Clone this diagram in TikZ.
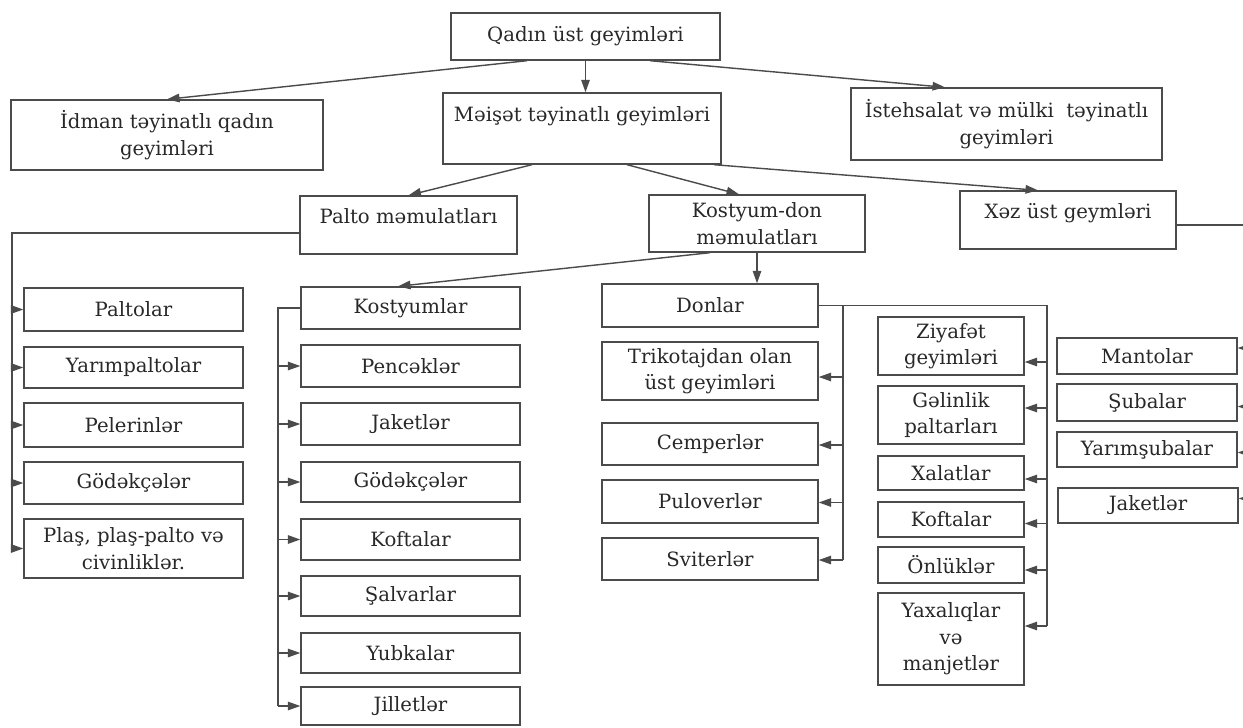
\documentclass[tikz,border=0pt]{standalone}
\usepackage{fontspec}
\setmainfont{DejaVu Serif}
\usepackage{tikz}
\usetikzlibrary{
    arrows.meta,
    calc
}
\definecolor{inkGray}{RGB}{40,40,40}
\definecolor{lineGray}{RGB}{75,75,75}
\tikzset{
  box/.style   = {draw=lineGray, line width=0.8pt, inner sep=0pt, align=center,
                  text=inkGray, font=\fontsize{11.2}{15}\selectfont},
  link/.style  = {draw=lineGray, line width=0.8pt},
  arr/.style   = {-{Triangle[length=0.25cm,width=0.17cm]}, draw=lineGray,
                  fill=lineGray, line width=0.8pt}
}

\begin{document}
\begin{tikzpicture}[x=0.02cm, y=-0.02cm]
\useasboundingbox (0,0) rectangle (1243,727);

\node[box, minimum width=5.38cm, minimum height=0.94cm] (top) at (585.5,36.5) {Qadın üst geyimləri};
\node[box, minimum width=6.24cm, minimum height=1.40cm] (idman) at (167,135) {İdman təyinatlı qadın\\geyimləri};
\node[box, minimum width=5.56cm, minimum height=1.42cm, text depth=17pt] (meiset) at (582,128.5) {Məişət təyinatlı geyimləri};
\node[box, minimum width=6.22cm, minimum height=1.44cm] (istehsalat) at (1006.5,124) {İstehsalat və mülki~ təyinatlı\\geyimləri};

\node[box, minimum width=4.34cm, minimum height=1.16cm, text depth=10pt] (palto) at (408.5,225) {Palto məmulatları};
\node[box, minimum width=4.32cm, minimum height=1.14cm] (kostyumdon) at (757,223.5) {Kostyum-don\\məmulatları};
\node[box, minimum width=4.32cm, minimum height=1.16cm, text depth=10pt] (xez) at (1068,220) {Xəz üst geymləri};

\node[box, minimum width=4.38cm, minimum height=0.86cm] (paltolar) at (133.5,309.5) {Paltolar};
\node[box, minimum width=4.38cm, minimum height=0.82cm] (yarimpaltolar) at (133.5,367.5) {Yarımpaltolar};
\node[box, minimum width=4.38cm, minimum height=0.88cm] (pelerinler) at (133.5,425) {Pelerinlər};
\node[box, minimum width=4.38cm, minimum height=0.84cm] (godekceler) at (133.5,483) {Gödəkçələr};
\node[box, minimum width=4.38cm, minimum height=1.18cm] (plas) at (133.5,548.5) {Plaş, plaş-palto və\\civinliklər.};

\node[box, minimum width=4.38cm, minimum height=0.84cm] (kostyumlar) at (410.5,308) {Kostyumlar};
\node[box, minimum width=4.38cm, minimum height=0.84cm] (pencekler) at (410.5,366) {Pencəklər};
\node[box, minimum width=4.38cm, minimum height=0.84cm] (jaketler) at (410.5,424) {Jaketlər};
\node[box, minimum width=4.38cm, minimum height=0.80cm] (godekcelerk) at (410.5,482) {Gödəkçələr};
\node[box, minimum width=4.38cm, minimum height=0.82cm] (koftalar) at (410.5,539.5) {Koftalar};
\node[box, minimum width=4.38cm, minimum height=0.80cm] (salvarlar) at (410.5,596) {Şalvarlar};
\node[box, minimum width=4.38cm, minimum height=0.80cm] (yubkalar) at (410.5,653) {Yubkalar};
\node[box, minimum width=4.38cm, minimum height=0.76cm] (jilletler) at (410.5,706) {Jilletlər};

\node[box, minimum width=4.32cm, minimum height=0.86cm] (donlar) at (710,305.5) {Donlar};
\node[box, minimum width=4.32cm, minimum height=1.16cm] (trikotaj) at (710,371) {Trikotajdan olan\\üst geyimləri};
\node[box, minimum width=4.32cm, minimum height=0.84cm] (cemperler) at (710,444) {Cemperlər};
\node[box, minimum width=4.32cm, minimum height=0.86cm] (puloverler) at (710,501.5) {Puloverlər};
\node[box, minimum width=4.32cm, minimum height=0.84cm] (sviterler) at (710,559) {Sviterlər};

\node[box, minimum width=2.92cm, minimum height=1.16cm] (ziyafet) at (951,346) {Ziyafət\\geyimləri};
\node[box, minimum width=2.92cm, minimum height=1.16cm] (gelinlik) at (951,415) {Gəlinlik\\paltarları};
\node[box, minimum width=2.92cm, minimum height=0.68cm] (xalatlar) at (951,473) {Xalatlar};
\node[box, minimum width=2.92cm, minimum height=0.70cm] (koftalard) at (951,519.5) {Koftalar};
\node[box, minimum width=2.92cm, minimum height=0.72cm] (onlukler) at (951,565) {Önlüklər};
\node[box, minimum width=2.92cm, minimum height=1.84cm] (yaxaliqlar) at (951,639) {Yaxalıqlar\\və\\manjetlər};

\node[box, minimum width=3.60cm, minimum height=0.72cm] (mantolar) at (1147,356) {Mantolar};
\node[box, minimum width=3.60cm, minimum height=0.74cm] (subalar) at (1147,402.5) {Şubalar};
\node[box, minimum width=3.60cm, minimum height=0.70cm] (yarimsubalar) at (1147,449.5) {Yarımşubalar};
\node[box, minimum width=3.60cm, minimum height=0.70cm] (jaketlerx) at (1148,505.5) {Jaketlər};

\draw[arr] ([xshift=-1.17cm]top.south) -- (idman.north);
\draw[arr] (top.south) -- (top.south |- meiset.north);
\draw[arr] ([xshift=1.29cm]top.south) -- ([xshift=-1.23cm]istehsalat.north);
\draw[arr] ([xshift=-1.0cm]meiset.south) -- (palto.north);
\draw[arr] ([xshift=0.9cm]meiset.south) -- ([xshift=-0.36cm]kostyumdon.north);
\draw[arr] ([xshift=2.64cm]meiset.south) -- ([xshift=-0.6cm]xez.north);
\draw[arr] ([xshift=-0.94cm]kostyumdon.south) -- ([xshift=-0.25cm]kostyumlar.north);
\draw[arr] (kostyumdon.south) -- (kostyumdon.south |- donlar.north);

\coordinate (pline) at (12,233);
\draw[link] (palto.west |- pline) -- (pline) -- (pline |- plas.west);
\foreach \b in {paltolar, yarimpaltolar, pelerinler, godekceler, plas}
  \draw[arr] (pline |- \b.west) -- (\b.west);

\coordinate (kline) at (278,0);
\draw[link] (kostyumlar.west) -- (kline |- kostyumlar.west) -- (kline |- jilletler.west);
\foreach \b in {pencekler, jaketler, godekcelerk, koftalar, salvarlar, yubkalar, jilletler}
  \draw[arr] (kline |- \b.west) -- (\b.west);

\coordinate (dline) at (843,0);
\coordinate (eline) at (1047,0);
\path ($(sviterler.east)+(0,1)$) coordinate (dend) ($(yaxaliqlar.east)+(0,-13)$) coordinate (eend);
\draw[link] (donlar.east) -- (eline |- donlar.east) -- (eline |- eend);
\draw[link] (dline |- donlar.east) -- (dline |- dend);
\foreach \b/\s in {trikotaj/6, cemperler/1, puloverler/1, sviterler/1} {
  \path ($(\b.east)+(0,\s)$) coordinate (t);
  \draw[arr] (dline |- t) -- (t);
}
\foreach \b/\s in {ziyafet/16, gelinlik/-7, xalatlar/6, koftalard/4, onlukler/5, yaxaliqlar/-13} {
  \path ($(\b.east)+(0,\s)$) coordinate (t);
  \draw[arr] (eline |- t) -- (t);
}

\coordinate (rline) at (1247,0);
\path ($(xez.east)+(0,5)$) coordinate (xs) ($(jaketlerx.east)+(0,-7)$) coordinate (rend);
\draw[link] (xs) -- (rline |- xs) -- (rline |- rend);
\foreach \b/\s in {mantolar/-8, subalar/4, yarimsubalar/3, jaketlerx/-7} {
  \path ($(\b.east)+(0,\s)$) coordinate (t);
  \draw[arr] (rline |- t) -- (t);
}
\end{tikzpicture}
\end{document}
